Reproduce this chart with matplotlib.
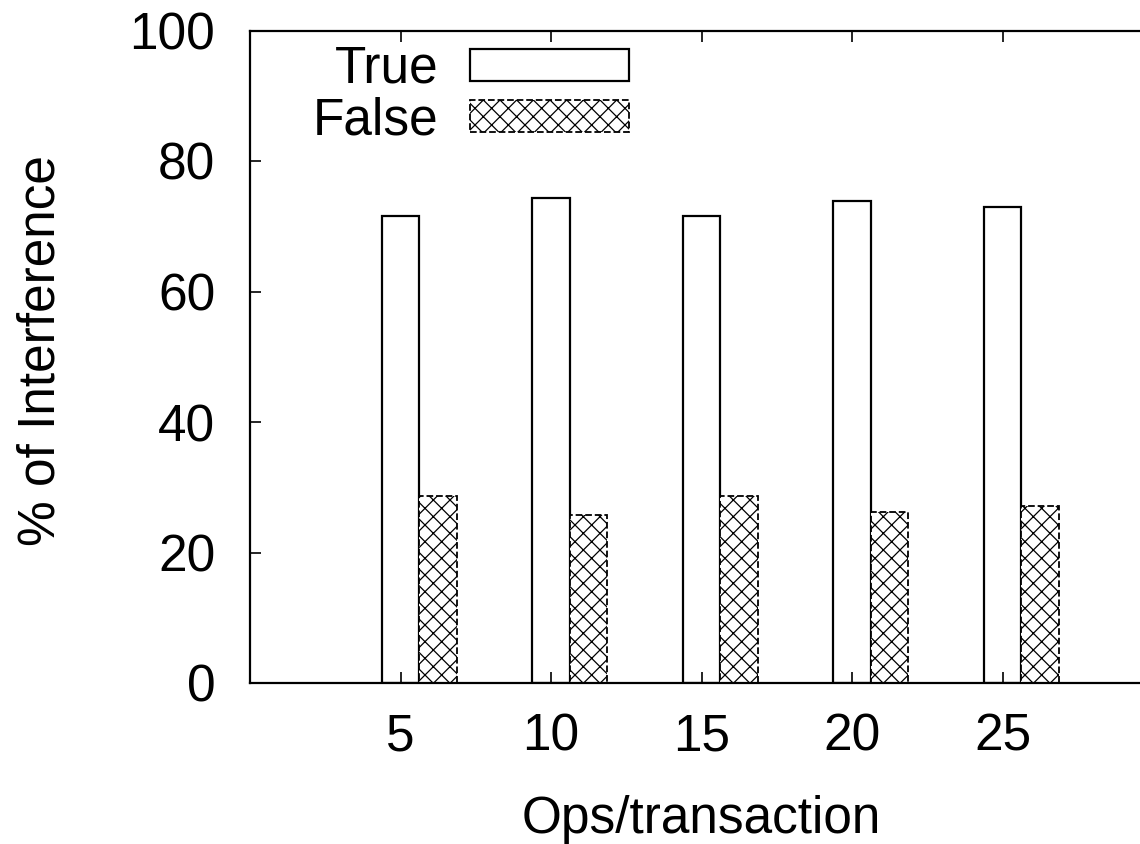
import numpy as np
import matplotlib
matplotlib.use("Agg")
import matplotlib.pyplot as plt

# values
ops = ["5", "10", "15", "20", "25"]
true_pct = [71.6, 74.3, 71.6, 73.9, 73.0]
false_pct = [28.6, 25.7, 28.6, 26.2, 27.1]

plt.rcParams["font.family"] = ["Liberation Sans", "DejaVu Sans"]
plt.rcParams["hatch.linewidth"] = 0.9

fig = plt.figure(figsize=(11.4, 8.44), dpi=100)
ax = fig.add_axes([250 / 1140, 1 - 683 / 844, 903 / 1140, 652.5 / 844])

x = np.arange(1, len(ops) + 1)
w = 0.25
ax.bar(x, true_pct, w, color="white", edgecolor="black", lw=1.6, label="True")
ax.bar(x + w, false_pct, w, color="white", edgecolor="black", lw=1.3,
       hatch="xx", linestyle="--", label="False")

ax.set_xlim(0, 6)
ax.set_ylim(0, 100)
ax.set_xticks(x)
ax.set_xticklabels(ops)
ax.set_yticks(range(0, 101, 20))
ax.tick_params(direction="in", top=True, right=True, length=8, width=1.2,
               labelsize=37)
ax.tick_params(axis="y", pad=25)
ax.tick_params(axis="x", pad=21)
for s in ax.spines.values():
    s.set_linewidth(1.6)

ax.set_xlabel("Ops/transaction", fontsize=37, labelpad=24)
ax.set_ylabel("% of Interference", fontsize=37)
ax.yaxis.set_label_coords(-0.204, 0.51)

ax.legend(loc="upper left", frameon=False, markerfirst=False, fontsize=37,
          handlelength=3.1, handleheight=0.58, labelspacing=0.05,
          handletextpad=0.6, borderpad=0.0, borderaxespad=0.0,
          bbox_to_anchor=(0.07, 0.978))

fig.savefig("out.png", dpi=100)
